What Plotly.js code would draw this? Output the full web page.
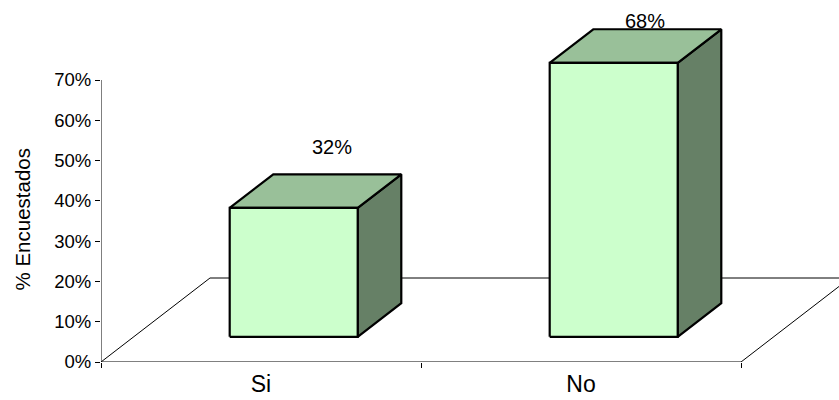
<!DOCTYPE html>
<html>
<head>
<meta charset="utf-8">
<script src="https://cdn.plot.ly/plotly-3.0.1.min.js"></script>
<style>
  html, body { margin: 0; padding: 0; background: #ffffff; }
  #chart { width: 839px; height: 400px; }
</style>
</head>
<body>
<div id="chart"></div>
<script>
// ---- data ----
const categories = ['Si', 'No'];
const values = [32, 68];
const valueLabels = ['32%', '68%'];
const yTickVals = [0, 10, 20, 30, 40, 50, 60, 70];
const yTickText = ['0%', '10%', '20%', '30%', '40%', '50%', '60%', '70%'];
const yTitle = '% Encuestados';

// ---- 3D projection (oblique, Excel-like) ----
const DX = 0.3406;   // x-units per full floor depth
const DY = 20.85;    // y-units (%) per full floor depth
const BAR_W = 0.4;   // bar width in category units
const D0 = 0.3, D1 = 0.7; // bar depth span
function P(x, d, h) { return [x + d * DX, h + d * DY]; }
function poly(pts) {
  const xs = [], ys = [];
  pts.forEach(p => { const q = P(p[0], p[1], p[2]); xs.push(q[0]); ys.push(q[1]); });
  return { x: xs, y: ys };
}

const FRONT = '#CCFFCC', TOP = '#99C099', SIDE = '#668066';
const traces = [];
const nCat = categories.length;

// floor outline
const floor = poly([[0, 0, 0], [nCat, 0, 0], [nCat, 1, 0], [0, 1, 0], [0, 0, 0]]);
traces.push({ type: 'scatter', mode: 'lines', x: floor.x, y: floor.y,
  line: { color: '#000000', width: 1 }, hoverinfo: 'skip' });

// value axis line (up to the last tick)
traces.push({ type: 'scatter', mode: 'lines', x: [0, 0],
  y: [yTickVals[0], yTickVals[yTickVals.length - 1]],
  line: { color: '#000000', width: 1 }, hoverinfo: 'skip' });

function face(pts, color) {
  const p = poly(pts.concat([pts[0]]));
  traces.push({ type: 'scatter', mode: 'lines', x: p.x, y: p.y, fill: 'toself',
    fillcolor: color, line: { color: '#000000', width: 2.2 }, hoverinfo: 'skip' });
}

categories.forEach((c, i) => {
  const v = values[i];
  const xl = i + 0.5 - BAR_W / 2, xr = i + 0.5 + BAR_W / 2;
  face([[xr, D0, 0], [xr, D1, 0], [xr, D1, v], [xr, D0, v]], SIDE);
  face([[xl, D0, v], [xr, D0, v], [xr, D1, v], [xl, D1, v]], TOP);
  face([[xl, D0, 0], [xr, D0, 0], [xr, D0, v], [xl, D0, v]], FRONT);
});

// data labels (pixel nudges to match reference placement)
const labelNudge = [[-5, 27], [-12, 8]];
const annotations = categories.map((c, i) => {
  const p = P(i + 0.5, D1, values[i]);
  return { x: p[0], y: p[1], xref: 'x', yref: 'y', text: valueLabels[i],
    showarrow: false, xanchor: 'center', yanchor: 'middle',
    xshift: labelNudge[i][0], yshift: labelNudge[i][1],
    font: { family: 'Liberation Sans, Arial, sans-serif', size: 20, color: '#000000' } };
});
annotations.push({ text: yTitle, xref: 'paper', yref: 'paper', x: -0.107, y: 0.405,
  textangle: -90, showarrow: false, xanchor: 'center', yanchor: 'middle',
  font: { family: 'Liberation Sans, Arial, sans-serif', size: 20.5, color: '#000000' } });

const PX_PER_CAT = 320, PX_PER_PCT = 4.02857;
const ml = 101, mr = 0, mt = 10, mb = 38;
const plotW = 839 - ml - mr, plotH = 400 - mt - mb;

const layout = {
  width: 839, height: 400,
  margin: { l: ml, r: mr, t: mt, b: mb, pad: 0 },
  paper_bgcolor: '#ffffff', plot_bgcolor: '#ffffff',
  showlegend: false, hovermode: false,
  font: { family: 'Liberation Sans, Arial, sans-serif', color: '#000000' },
  xaxis: {
    range: [0, plotW / PX_PER_CAT], showgrid: false, zeroline: false, showline: false,
    tickmode: 'array', tickvals: categories.map((c, i) => i + 0.5), ticktext: categories,
    ticks: '', ticklabelstandoff: 6, tickfont: { size: 23, color: '#000000' },
    minor: { tickmode: 'array', tickvals: categories.map((c, i) => i).concat([nCat]),
      ticks: 'outside', ticklen: 5, tickcolor: '#000000', tickwidth: 1, showgrid: false },
    fixedrange: true
  },
  yaxis: {
    range: [0, plotH / PX_PER_PCT], showgrid: false, zeroline: false, showline: false,
    tickmode: 'array', tickvals: yTickVals, ticktext: yTickText,
    ticks: 'outside', ticklen: 5, tickcolor: '#000000', tickwidth: 1,
    tickfont: { size: 18.5, color: '#000000' }, fixedrange: true
  },
  annotations: annotations
};

Plotly.newPlot('chart', traces, layout, { staticPlot: true, displayModeBar: false });
</script>
</body>
</html>
